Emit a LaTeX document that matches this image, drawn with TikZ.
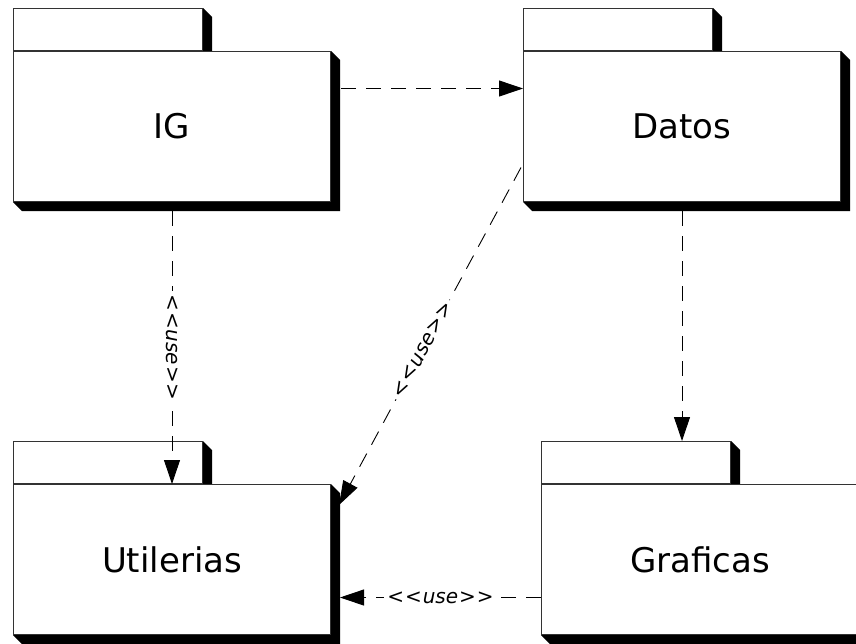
\documentclass[tikz,border=0pt]{standalone}
\usepackage{fontspec}
\setmainfont{DejaVu Sans}
\usetikzlibrary{arrows.meta,positioning}

\tikzset{
  tabbox/.style={draw=black!80, line width=1pt, fill=white, minimum width=189pt, minimum height=42pt, inner sep=0pt},
  pkgbox/.style={draw=black!80, line width=1pt, fill=white, minimum width=317pt, minimum height=150pt, inner sep=0pt, font=\fontsize{34}{40}\selectfont},
  uses/.style={line width=0.9pt, dash pattern=on 15pt off 10pt, -{Triangle[length=24pt,width=16pt]}},
  lbl/.style={fill=white, inner sep=3pt, font=\itshape\fontsize{20}{24}\selectfont}
}
\newcommand{\castshadow}[1]{\fill (#1.north east) -- ++(9pt,-9pt) -- ([shift={(9pt,-9pt)}]#1.south east) -- ([shift={(9pt,-9pt)}]#1.south west) -- (#1.south west) -- (#1.south east) -- cycle;}
\newcommand{\stereo}[1]{<\kern1pt<\kern1pt#1\kern1pt>\kern1pt>}

\begin{document}
\begin{tikzpicture}[x=1pt,y=-1pt]
  \useasboundingbox (0,0) rectangle (856,643);

  \foreach \nm/\x/\y/\txt in {ig/13/51/IG, datos/523/51/Datos, util/13/484/Utilerias, graf/541/484/Graficas}{
    \node[tabbox, anchor=south west] (\nm tab) at (\x,\y) {};
    \castshadow{\nm tab}
    \node[pkgbox, anchor=north west] (\nm) at (\x,\y) {\txt};
    \castshadow{\nm}
  }

  \draw[uses] ([xshift=10pt,yshift=38pt]ig.east) -- ([yshift=38pt]datos.west);
  \draw[uses] ([yshift=-9pt]ig.south) -- node[lbl, rotate=-90] {\stereo{use}} (util.north);
  \draw[uses] ([xshift=-2pt,yshift=-41pt]datos.west) -- node[lbl, sloped, pos=0.54] {\stereo{use}} ([xshift=8pt,yshift=-21pt]util.north east);
  \draw[uses] ([yshift=-9pt]datos.south) -- (datos.south |- graftab.north);
  \draw[uses] ([yshift=-38pt]graf.west) -- node[lbl] {\stereo{use}} ([xshift=9pt,yshift=-38pt]util.east);

\end{tikzpicture}
\end{document}
